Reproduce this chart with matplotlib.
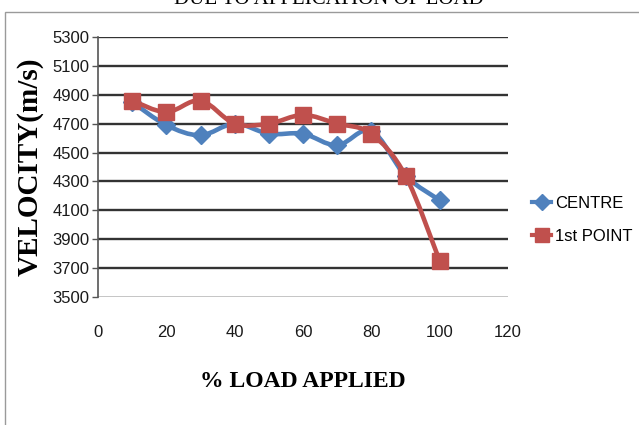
import matplotlib
matplotlib.use('Agg')
import matplotlib.pyplot as plt
from matplotlib.path import Path
from matplotlib.patches import PathPatch, Rectangle
from matplotlib.lines import Line2D

# data
load_pct = [10, 20, 30, 40, 50, 60, 70, 80, 90, 100]
centre = [4850, 4690, 4620, 4700, 4630, 4630, 4550, 4650, 4340, 4170]
first_point = [4860, 4780, 4860, 4700, 4700, 4760, 4700, 4630, 4340, 3750]
x_ticks = [0, 20, 40, 60, 80, 100, 120]
y_ticks = list(range(3500, 5301, 200))

blue = '#4F81BD'
red = '#C0504D'
tick_font = 'Liberation Sans'
serif = 'Liberation Serif'


def smooth_path(xs, ys):
    # Excel-like smoothed line: cubic bezier through each point (Catmull-Rom style)
    pts = list(zip(xs, ys))
    verts = [pts[0]]
    codes = [Path.MOVETO]
    n = len(pts)
    for i in range(n - 1):
        p0 = pts[i - 1] if i > 0 else pts[i]
        p1 = pts[i]
        p2 = pts[i + 1]
        p3 = pts[i + 2] if i + 2 < n else pts[i + 1]
        c1 = (p1[0] + (p2[0] - p0[0]) / 6, p1[1] + (p2[1] - p0[1]) / 6)
        c2 = (p2[0] - (p3[0] - p1[0]) / 6, p2[1] - (p3[1] - p1[1]) / 6)
        verts += [c1, c2, p2]
        codes += [Path.CURVE4] * 3
    return Path(verts, codes)


fig = plt.figure(figsize=(6.39, 4.25), dpi=100)
fig.patch.set_facecolor('white')

# outer frame of the original figure box
fig.add_artist(Rectangle((5 / 639, -0.05), 1.1, 1 - 12 / 425 + 0.05,
                         transform=fig.transFigure, fill=False,
                         edgecolor='#9a9a9a', linewidth=1.0))

# title, cropped at the top as in the original
fig.text(0.515, 1.0, 'DUE TO APPLICATION OF LOAD', ha='center', va='center',
         fontsize=15, family=serif, color='black')

ax = fig.add_axes([98 / 639, 1 - 297 / 425, (508 - 98) / 639, (297 - 37) / 425])
ax.set_xlim(0, 120)
ax.set_ylim(3500, 5300)
ax.set_xticks(x_ticks)
ax.set_yticks(y_ticks)

for v in y_ticks[1:]:
    ax.axhline(v, color='#333333', linewidth=1.7, zorder=1)
ax.axhline(3500, color='#bbbbbb', linewidth=1.2, zorder=1)

for s in ['top', 'right', 'bottom']:
    ax.spines[s].set_visible(False)
ax.spines['left'].set_color('#555555')
ax.spines['left'].set_linewidth(1.2)

ax.tick_params(axis='y', length=4, width=1, color='#555555', pad=2,
               labelsize=12)
ax.tick_params(axis='x', length=0, pad=20, labelsize=12)
for lab in ax.get_xticklabels() + ax.get_yticklabels():
    lab.set_family(tick_font)
    lab.set_color('#1a1a1a')

ax.add_patch(PathPatch(smooth_path(load_pct, centre), fill=False,
                       edgecolor=blue, linewidth=3.3, zorder=3,
                       transform=ax.transData))
ax.plot(load_pct, centre, linestyle='none', marker='D', markersize=9,
        color=blue, zorder=4)
ax.add_patch(PathPatch(smooth_path(load_pct, first_point), fill=False,
                       edgecolor=red, linewidth=3.3, zorder=5,
                       transform=ax.transData))
ax.plot(load_pct, first_point, linestyle='none', marker='s', markersize=11,
        color=red, zorder=6)

ax.set_xlabel('% LOAD APPLIED', family=serif, fontweight='bold', fontsize=17)
ax.xaxis.set_label_coords(0.5, -(371 - 297) / 260, transform=ax.transAxes)
ax.set_ylabel('VELOCITY(m/s)', family=serif, fontweight='bold', fontsize=21)
ax.yaxis.set_label_coords((44 - 98) / 410, 0.5, transform=ax.transAxes)

handles = [
    Line2D([], [], color=blue, linewidth=3, marker='D', markersize=8),
    Line2D([], [], color=red, linewidth=3, marker='s', markersize=10),
]
fig.legend(handles, ['CENTRE', '1st POINT'], loc='center left',
           bbox_to_anchor=(524 / 639, 1 - 220 / 425), frameon=False,
           prop={'family': tick_font, 'size': 12}, handlelength=1.1,
           handletextpad=0.25, labelspacing=1.05, borderpad=0)

fig.savefig('out.png', dpi=100, facecolor='white')
